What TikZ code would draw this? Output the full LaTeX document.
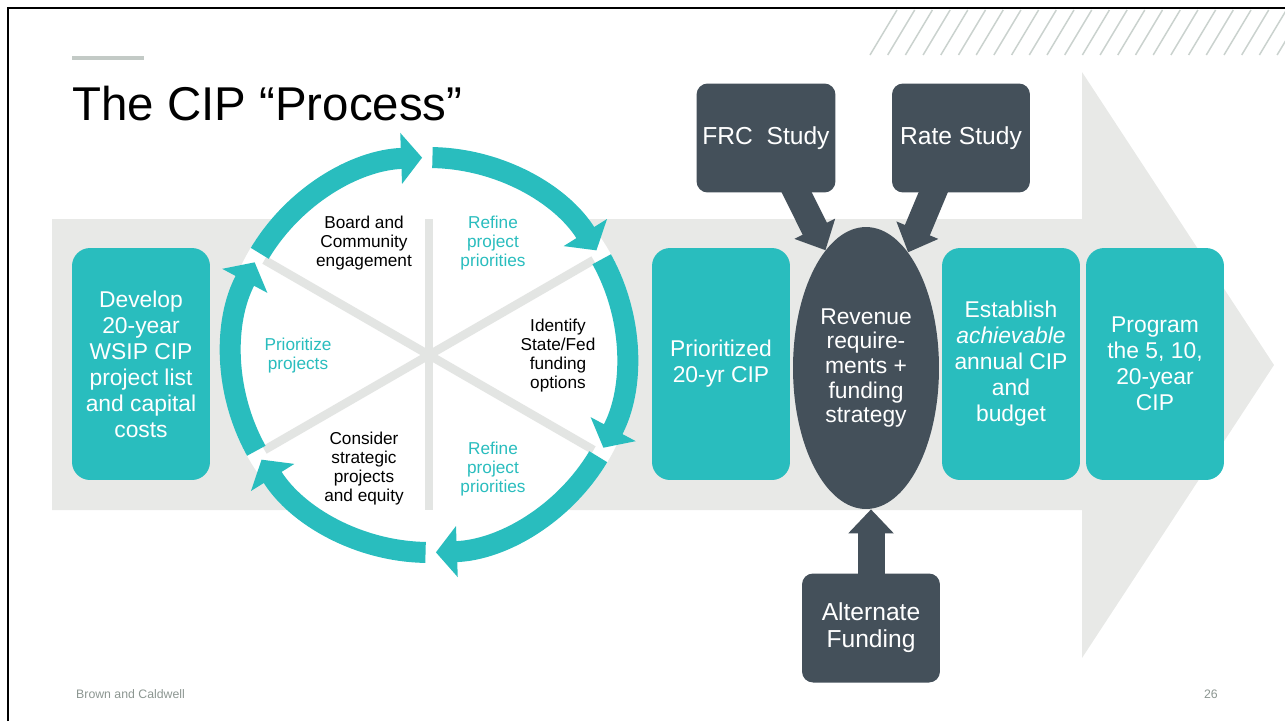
\documentclass[tikz,border=0pt]{standalone}
\usepackage{fontspec}
\setmainfont{Liberation Sans}
\usetikzlibrary{positioning,arrows.meta,calc,shapes.geometric}
\definecolor{cipteal}{HTML}{29BDBE}
\definecolor{cipdark}{HTML}{44505A}
\definecolor{cipgrey}{HTML}{E8E9E7}
\definecolor{cipspoke}{HTML}{E3E5E3}
\definecolor{ciphatch}{HTML}{CAD2CE}
\definecolor{cipfoot}{HTML}{8C9691}
\pgfdeclarelayer{back}
\pgfdeclarelayer{mid}
\pgfsetlayers{back,mid,main}
\tikzset{
  tealbox/.style={fill=cipteal, rounded corners=0.36cm, minimum width=2.76cm, minimum height=4.64cm, text=white, align=center, inner sep=2pt, font=\fontsize{13}{14.8}\selectfont},
  darkbox/.style={fill=cipdark, rounded corners=0.22cm, minimum width=2.76cm, minimum height=2.18cm, text=white, align=center, font=\fontsize{14}{15.5}\selectfont},
  revnode/.style={ellipse, fill=cipdark, minimum width=2.92cm, minimum height=5.64cm, inner sep=0pt, text=white, align=center, font=\fontsize{13}{14}\selectfont},
  darkarrow/.style={-{Triangle[length=0.48cm,width=0.88cm]}, line width=0.54cm, cipdark},
  cyclearrow/.style={-{Triangle[length=0.42cm,width=1.0cm]}, line width=0.42cm, cipteal},
  spoke/.style={line width=0.17cm, cipspoke},
  steptext/.style={align=center, font=\fontsize{9.8}{10.8}\selectfont}
}

\begin{document}
\begin{tikzpicture}[x=0.02cm, y=-0.02cm]
      \useasboundingbox (0,0) rectangle (1285,721);
      % slide frame and header
      \draw[line width=0.04cm] (8,721) -- (8,8) -- (1285,8);
      \fill[ciphatch!90!gray] (72,56) rectangle (144,60);
      \foreach \i in {0,...,23}
        \draw[ciphatch, line width=0.03cm] (870+\i*17.7,55) -- ++(27,-45);
      \node[anchor=base west, font=\fontsize{27}{30}\selectfont, inner sep=0pt] (title) at (72,120) {The CIP “Process”};
      % big background arrow
      \begin{pgfonlayer}{back}
        \fill[cipgrey] (52,219) -- (1082,219) -- (1082,72) -- (1274,365) -- (1082,658) -- (1082,510) -- (52,510) -- cycle;
      \end{pgfonlayer}
      % the cycle
      \begin{scope}[shift={(429,355)}]
        \fill[white] (0,0) circle[radius=4.16cm];
        \draw[spoke] (0,-136) -- (0,155);
        \draw[spoke] (30:3.8cm) -- (210:3.8cm);
        \draw[spoke] (150:3.8cm) -- (-30:3.8cm);
        \foreach \s in {90,30,-30,-90,-150,150}
          \draw[cyclearrow] (\s+59:3.95cm) arc[start angle=\s+59, end angle=\s+2, radius=3.95cm];
      \end{scope}
      \node[steptext] (board) at (364,243) {Board and\\Community\\engagement};
      \node[steptext, text=cipteal] (refinetop) at (493,243) {Refine\\project\\priorities};
      \node[steptext] (identify) at (558,356) {Identify\\State/Fed\\funding\\options};
      \node[steptext, text=cipteal] (refinebot) at (493,469) {Refine\\project\\priorities};
      \node[steptext] (consider) at (364,469) {Consider\\strategic\\projects\\and equity};
      \node[steptext, text=cipteal] (prioritize) at (298,356) {Prioritize\\projects};
      % process boxes
      \node[tealbox] (develop) at (141,364) {Develop\\20-year\\WSIP CIP\\project list\\and capital\\costs};
      \node[tealbox] (prioritized) at (721,364) {Prioritized\\20-yr CIP};
      \node[revnode] (revenue) at (866,368) {Revenue\\require-\\ments +\\funding\\strategy};
      \node[tealbox] (establish) at (1011,364) {Establish\\\textit{achievable}\\annual CIP\\and\\budget};
      \node[tealbox] (program) at (1155,364) {Program\\the 5, 10,\\20-year\\CIP};
      \node[darkbox] (frc) at (766,138) {FRC~ Study};
      \node[darkbox] (rate) at (961,138) {Rate Study};
      \node[darkbox] (altfund) at (871,628) {Alternate\\Funding};
      \begin{pgfonlayer}{mid}
        \draw[darkarrow] ($(frc.south)+(25,-12)$) -- (revenue.109);
        \draw[darkarrow] ($(rate.south)+(-23,-12)$) -- (revenue.70);
        \draw[darkarrow] ($(altfund.north)+(0,12)$) -- (altfund.north |- revenue.south);
      \end{pgfonlayer}
      % footer
      \node[anchor=west, text=cipfoot, font=\fontsize{7}{8}\selectfont] (firm) at (70,694) {Brown and Caldwell};
      \node[anchor=east, text=cipfoot, font=\fontsize{7}{8}\selectfont] (page) at (1224,694) {26};
    \end{tikzpicture}
\end{document}
